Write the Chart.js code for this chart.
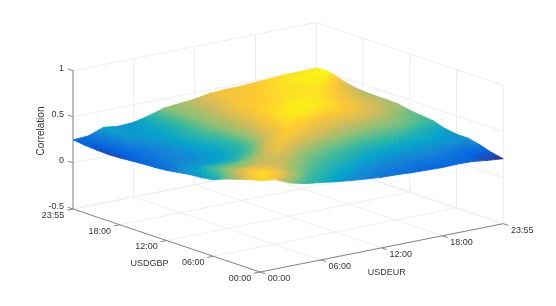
<!DOCTYPE html>
<html>
<head>
<meta charset="utf-8">
<title>Correlation surface</title>
<script src="https://cdn.jsdelivr.net/npm/chart.js@4/dist/chart.umd.js"></script>
<style>
  html, body { margin: 0; padding: 0; background: #fff; }
  #chart { display: block; }
</style>
</head>
<body>
<canvas id="chart" width="556" height="306"></canvas>
<script>
// one row per USDGBP step (90 min, 00:00 first), one column per USDEUR step
const correlation = [
  [.49,.47,.40,.36,.34,.315,.295,.28,.265,.26,.25,.245,.24,.245,.24,.22,.205],
  [.46,.50,.47,.42,.37,.345,.32,.30,.285,.275,.27,.26,.26,.26,.25,.23,.23],
  [.42,.48,.47,.44,.40,.37,.35,.33,.315,.30,.29,.285,.285,.28,.27,.26,.27],
  [.38,.45,.45,.44,.43,.40,.375,.36,.345,.33,.32,.31,.31,.305,.30,.30,.30],
  [.33,.41,.41,.43,.44,.43,.40,.385,.37,.36,.345,.34,.335,.33,.325,.315,.30],
  [.31,.38,.385,.40,.43,.46,.44,.42,.40,.39,.38,.375,.37,.365,.35,.335,.32],
  [.30,.345,.35,.355,.385,.44,.47,.455,.44,.425,.415,.405,.40,.395,.39,.37,.36],
  [.28,.31,.31,.32,.35,.39,.45,.48,.47,.455,.445,.435,.43,.42,.41,.39,.375],
  [.26,.29,.295,.31,.33,.36,.42,.46,.49,.48,.47,.46,.46,.45,.435,.41,.39],
  [.25,.275,.285,.305,.325,.355,.41,.455,.485,.50,.50,.49,.485,.47,.45,.43,.415],
  [.245,.265,.285,.305,.33,.36,.41,.44,.475,.50,.51,.51,.50,.48,.46,.44,.42],
  [.235,.26,.28,.305,.335,.37,.405,.435,.47,.49,.50,.51,.505,.49,.47,.445,.42],
  [.225,.255,.285,.31,.335,.365,.405,.43,.465,.485,.49,.50,.50,.50,.485,.455,.425],
  [.22,.26,.295,.31,.33,.36,.40,.43,.46,.48,.48,.49,.50,.50,.50,.475,.44],
  [.225,.26,.30,.31,.325,.355,.40,.42,.445,.47,.475,.485,.495,.50,.51,.505,.475],
  [.235,.26,.31,.305,.32,.355,.40,.42,.44,.465,.475,.48,.49,.50,.51,.515,.516],
  [.25,.26,.32,.30,.31,.35,.40,.415,.43,.46,.47,.47,.48,.49,.50,.50,.505],
];
const timeLabels = ["00:00", "06:00", "12:00", "18:00", "23:55"];
const timeTicks = [0, 4, 8, 12, 16];
const zTicks = [-0.5, 0, 0.5, 1];
const zTickLabels = ["-0.5", "0", "0.5", "1"];
const xName = "USDEUR";
const yName = "USDGBP";
const zName = "Correlation";

const LAST = 16;
const C_MIN = 0.2;
const C_MAX = 0.52;
const GRID = "#ededed";
const AXIS = "#858585";

// parula, old matlab flavour
const parula = [
  [53, 42, 135], [3, 99, 225], [20, 129, 214], [6, 164, 202], [51, 184, 161],
  [135, 191, 119], [209, 187, 89], [254, 200, 50], [249, 251, 14],
];

function colorAt(z) {
  const t = Math.min(1, Math.max(0, (z - C_MIN) / (C_MAX - C_MIN))) * (parula.length - 1);
  const k = Math.min(parula.length - 2, Math.floor(t));
  const f = t - k;
  const c = parula[k].map((v, n) => Math.round(v + (parula[k + 1][n] - v) * f));
  return `rgb(${c[0]},${c[1]},${c[2]})`;
}

// orthographic view of the box, e and g are grid steps
function project(e, g, z) {
  return {
    x: 260 + (243.3 * e) / LAST - (187 * g) / LAST,
    y: 272 - (48.3 * e) / LAST - (63 * g) / LAST - (z + 0.5) * 92.2,
  };
}

// colour runs along the z slope of the triangle, so the shading stays flat-free
function triangleGradient(context, a, b, c) {
  const chart = context.chart;
  const { x: sx, y: sy } = chart.scales;
  const pts = [a, b, c].map((v) => {
    const p = project(v[0], v[1], v[2]);
    return { x: sx.getPixelForValue(p.x), y: sy.getPixelForValue(p.y), z: v[2] };
  });
  const [p0, p1, p2] = pts;
  const det = (p1.x - p0.x) * (p2.y - p0.y) - (p2.x - p0.x) * (p1.y - p0.y);
  const gx = ((p1.z - p0.z) * (p2.y - p0.y) - (p2.z - p0.z) * (p1.y - p0.y)) / det;
  const gy = ((p2.z - p0.z) * (p1.x - p0.x) - (p1.z - p0.z) * (p2.x - p0.x)) / det;
  const len2 = gx * gx + gy * gy;
  if (!isFinite(len2) || len2 < 1e-12) return colorAt(p0.z);

  const low = pts.reduce((m, p) => (p.z < m.z ? p : m));
  const high = pts.reduce((m, p) => (p.z > m.z ? p : m));
  const dz = high.z - low.z;
  const grad = chart.ctx.createLinearGradient(
    low.x, low.y, low.x + (gx * dz) / len2, low.y + (gy * dz) / len2
  );
  for (let n = 0; n <= 6; n++) {
    grad.addColorStop(n / 6, colorAt(low.z + (dz * n) / 6));
  }
  return grad;
}

function lineSet(from, to, color) {
  return {
    data: [project(...from), project(...to)],
    borderColor: color,
    borderWidth: 1,
    pointRadius: 0,
    showLine: true,
    fill: false,
  };
}

function triangleSet(a, b, c) {
  const paint = (context) => triangleGradient(context, a, b, c);
  return {
    data: [project(...a), project(...b), project(...c), project(...a)],
    backgroundColor: paint,
    borderColor: paint,
    borderWidth: 0.8,
    pointRadius: 0,
    showLine: true,
    fill: "shape",
    tension: 0,
  };
}

// back to front
const drawList = [];
const zLow = zTicks[0];
const zHigh = zTicks[zTicks.length - 1];

timeTicks.forEach((t) => {
  drawList.push(lineSet([t, 0, zLow], [t, LAST, zLow], GRID));
  drawList.push(lineSet([0, t, zLow], [LAST, t, zLow], GRID));
  drawList.push(lineSet([t, LAST, zLow], [t, LAST, zHigh], GRID));
  drawList.push(lineSet([LAST, t, zLow], [LAST, t, zHigh], GRID));
});
zTicks.forEach((z) => {
  drawList.push(lineSet([0, LAST, z], [LAST, LAST, z], GRID));
  drawList.push(lineSet([LAST, LAST, z], [LAST, 0, z], GRID));
});

// axes and tick marks
drawList.push(lineSet([0, LAST, zLow], [0, LAST, zHigh], AXIS));
drawList.push(lineSet([0, LAST, zLow], [0, 0, zLow], AXIS));
drawList.push(lineSet([0, 0, zLow], [LAST, 0, zLow], AXIS));
timeTicks.forEach((t) => {
  drawList.push(lineSet([t, 0, zLow], [t, -0.45, zLow], AXIS));
  drawList.push(lineSet([0, t, zLow], [-0.4, t, zLow], AXIS));
});
zTicks.forEach((z) => {
  drawList.push(lineSet([0, LAST, z], [0, LAST + 0.45, z], AXIS));
});

for (let g = LAST - 1; g >= 0; g--) {
  for (let e = LAST - 1; e >= 0; e--) {
    const p00 = [e, g, correlation[g][e]];
    const p10 = [e + 1, g, correlation[g][e + 1]];
    const p01 = [e, g + 1, correlation[g + 1][e]];
    const p11 = [e + 1, g + 1, correlation[g + 1][e + 1]];
    drawList.push(triangleSet(p11, p01, p00));
    drawList.push(triangleSet(p11, p10, p00));
  }
}

const textPlugin = {
  id: "axisText",
  afterDraw(chart) {
    const { ctx } = chart;
    const { x: sx, y: sy } = chart.scales;
    const put = (text, p, dx, dy, align) => {
      ctx.textAlign = align;
      ctx.fillText(text, sx.getPixelForValue(p.x) + dx, sy.getPixelForValue(p.y) + dy);
    };
    ctx.save();
    ctx.fillStyle = "#333";
    ctx.textBaseline = "middle";
    ctx.font = '9px "Liberation Sans", Arial, sans-serif';

    zTicks.forEach((z, i) => {
      put(zTickLabels[i], project(0, LAST, z), -9, -2, "right");
    });
    timeTicks.forEach((t, i) => {
      put(timeLabels[i], project(t, 0, zLow), 19, 7, "center");
      put(timeLabels[i], project(0, t, zLow), -20, 6.5, "center");
    });
    put(yName, project(0, LAST / 2, zLow), -17, 23, "center");
    put(xName, project(LAST / 2, 0, zLow), 5, 25, "center");

    ctx.save();
    ctx.translate(41, 131);
    ctx.rotate(-Math.PI / 2);
    ctx.font = '10px "Liberation Sans", Arial, sans-serif';
    ctx.textAlign = "center";
    ctx.fillText(zName, 0, 0);
    ctx.restore();
    ctx.restore();
  },
};

new Chart(document.getElementById("chart").getContext("2d"), {
  type: "scatter",
  // chart.js paints the first dataset last
  data: { datasets: drawList.slice().reverse() },
  options: {
    responsive: false,
    animation: false,
    events: [],
    layout: { padding: 0 },
    plugins: { legend: { display: false }, tooltip: { enabled: false } },
    scales: {
      x: { type: "linear", display: false, min: 0, max: 556 },
      y: { type: "linear", display: false, min: 0, max: 306, reverse: true },
    },
  },
  plugins: [textPlugin],
});
</script>
</body>
</html>
